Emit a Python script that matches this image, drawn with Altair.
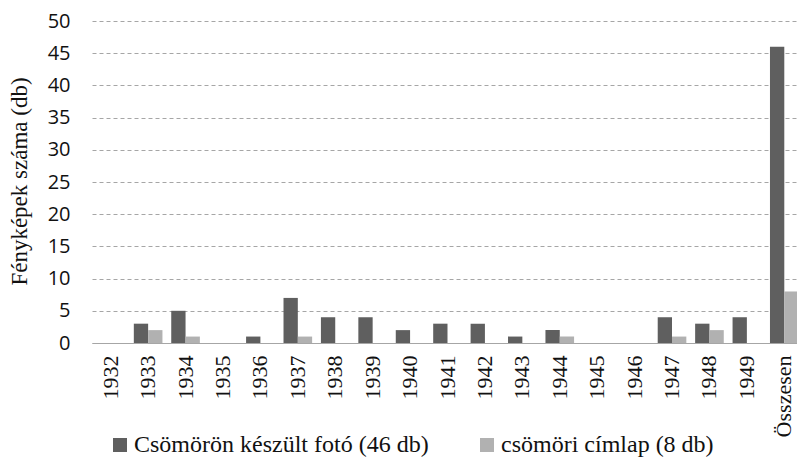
import altair as alt
import pandas as pd

categories = ["1932", "1933", "1934", "1935", "1936", "1937", "1938", "1939", "1940",
              "1941", "1942", "1943", "1944", "1945", "1946", "1947", "1948", "1949", "Összesen"]
foto = [0, 3, 5, 0, 1, 7, 4, 4, 2, 3, 3, 1, 2, 0, 0, 4, 3, 4, 46]
cimlap = [0, 2, 1, 0, 0, 1, 0, 0, 0, 0, 0, 0, 1, 0, 0, 1, 2, 0, 8]
series = ["Csömörön készült fotó (46 db)", "csömöri címlap (8 db)"]
colors = ["#5f5f5f", "#b1b1b1"]
y_ticks = list(range(0, 51, 5))

rows = []
for cat, a, b in zip(categories, foto, cimlap):
    rows.append({"year": cat, "series": series[0], "value": a})
    rows.append({"year": cat, "series": series[1], "value": b})
df = pd.DataFrame(rows)

serif = "Liberation Serif"
sans = "Open Sans"

chart = alt.Chart(df).mark_bar().encode(
    x=alt.X(
        "year:N", sort=categories,
        scale=alt.Scale(rangeMin=0, rangeMax=711, paddingInner=0.235, paddingOuter=0.1175),
        axis=alt.Axis(title=None, labelAngle=270, labelFont=serif, labelFontSize=22,
                      labelColor="#111111", labelPadding=12, ticks=False,
                      domainColor="#a6a6a6", domainWidth=1.2, grid=False, labelOverlap=False),
    ),
    xOffset=alt.XOffset("series:N", sort=series,
                        scale=alt.Scale(paddingInner=0, paddingOuter=0)),
    y=alt.Y(
        "value:Q",
        scale=alt.Scale(domain=[0, 50], nice=False),
        axis=alt.Axis(values=y_ticks, title="Fényképek száma (db)", titleFont=serif,
                      titleFontSize=23, titleFontWeight="normal", titleColor="#111111",
                      titleX=-73, titleY=160, titleAngle=270, titleAlign="center",
                      titleBaseline="middle",
                      labelFont=sans, labelFontSize=20, labelColor="#111111",
                      labelPadding=22, ticks=False, domain=False,
                      gridColor="#a6a6a6", gridDash=[4, 3], gridWidth=1),
    ),
    color=alt.Color(
        "series:N", sort=series,
        scale=alt.Scale(domain=series, range=colors),
        legend=alt.Legend(title=None, orient="none", legendX=16, legendY=412,
                          direction="horizontal", symbolType="square", symbolSize=196,
                          symbolStrokeWidth=0, labelFont=serif, labelFontSize=24,
                          labelColor="#111111", labelOffset=2, columnPadding=46,
                          labelLimit=500, padding=0),
    ),
).properties(
    width=705, height=322,
    padding={"left": 84, "top": 13, "right": 0, "bottom": 116},
    autosize=alt.AutoSizeParams(type="none"),
).configure_view(stroke=None)

chart.save("out.html", embed_options={"renderer": "svg", "actions": False})
